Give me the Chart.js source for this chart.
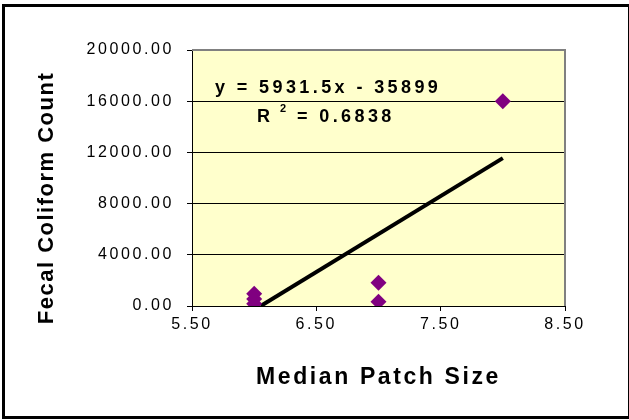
<!DOCTYPE html>
<html>
<head>
<meta charset="utf-8">
<script src="https://cdn.jsdelivr.net/npm/chart.js@4/dist/chart.umd.min.js"></script>
<style>
    body { margin: 0; background: #fff; }
    #chart { display: block; }
</style>
</head>
<body>
<canvas id="chart" width="629" height="420"></canvas>
<script>
// data
var patchSize = [6, 6, 6, 7, 7, 8];
var coliform = [950, 550, 180, 1820, 340, 16000];

// trendline as given by the chart
var slope = 5931.5;
var intercept = -35899;
var rSquared = 0.6838;

var xTicks = [5.5, 6.5, 7.5, 8.5];
var yTicks = [0, 4000, 8000, 12000, 16000, 20000];

var xTitle = 'Median Patch Size';
var yTitle = 'Fecal Coliform Count';

var points = patchSize.map((x, i) => ({ x: x, y: coliform[i] }));
var xStart = -intercept / slope;
var xEnd = Math.max(...patchSize);
var trend = [xStart, xEnd].map(x => ({ x: x, y: slope * x + intercept }));

var plotLeft = 192, plotRight = 565, plotTop = 50, plotBottom = 306;
var fontName = '"Liberation Sans", Arial, sans-serif';

var chartDecor = {
    id: 'chartDecor',
    beforeDraw(chart) {
        var ctx = chart.ctx;
        var a = chart.chartArea;
        ctx.save();
        ctx.fillStyle = '#FFFFCC';
        ctx.fillRect(a.left, a.top, a.right - a.left, a.bottom - a.top);
        ctx.restore();
        ctx.letterSpacing = '2.6px';
    },
    beforeDatasetsDraw(chart) {
        var ctx = chart.ctx;
        var a = chart.chartArea;
        ctx.save();
        ctx.strokeStyle = '#808080';
        ctx.lineWidth = 2;
        ctx.beginPath();
        ctx.moveTo(a.left, a.top);
        ctx.lineTo(a.right, a.top);
        ctx.lineTo(a.right, a.bottom);
        ctx.stroke();
        ctx.restore();
    },
    afterDraw(chart) {
        var ctx = chart.ctx;
        ctx.save();
        ctx.letterSpacing = '0px';
        ctx.strokeStyle = '#000';
        ctx.lineWidth = 3;
        ctx.strokeRect(3.5, 5.5, 626, 412);

        // trendline label
        ctx.fillStyle = '#000';
        ctx.textBaseline = 'alphabetic';
        ctx.textAlign = 'left';
        ctx.letterSpacing = '3.4px';
        ctx.font = 'bold 18px ' + fontName;
        ctx.fillText('y = ' + slope + 'x - ' + Math.abs(intercept), 215, 93);
        ctx.fillText('R', 257, 122);
        ctx.font = 'bold 11px ' + fontName;
        ctx.fillText('2', 280, 112);
        ctx.font = 'bold 18px ' + fontName;
        ctx.fillText('= ' + rSquared, 297, 122);

        ctx.letterSpacing = '1.5px';
        ctx.font = 'bold 22px ' + fontName;
        ctx.textAlign = 'center';
        ctx.textBaseline = 'middle';
        ctx.translate(47, 198);
        ctx.rotate(-Math.PI / 2);
        ctx.fillText(yTitle, 0, 0);
        ctx.restore();
    }
};

var config = {
    data: {
        datasets: [
            {
                type: 'scatter',
                label: 'Fecal Coliform',
                data: points,
                backgroundColor: '#800080',
                borderColor: '#800080',
                pointStyle: 'rectRot',
                pointRadius: 8,
                pointHoverRadius: 8,
                borderWidth: 0
            },
            {
                type: 'line',
                label: 'Trend',
                data: trend,
                borderColor: '#000',
                borderWidth: 4,
                pointRadius: 0,
                fill: false,
                tension: 0
            }
        ]
    },
    options: {
        responsive: false,
        animation: false,
        layout: { padding: { left: 0, top: plotTop, right: 629 - plotRight, bottom: 0 } },
        plugins: {
            legend: { display: false },
            tooltip: { enabled: false }
        },
        scales: {
            x: {
                type: 'linear',
                min: xTicks[0],
                max: xTicks[xTicks.length - 1],
                afterBuildTicks: s => { s.ticks = xTicks.map(v => ({ value: v })); },
                afterFit: s => { s.height = 420 - plotBottom; },
                ticks: {
                    color: '#000',
                    font: { family: fontName, size: 16 },
                    padding: 4,
                    maxRotation: 0,
                    callback: v => v.toFixed(2)
                },
                grid: { drawOnChartArea: false, color: '#000', tickLength: 5 },
                border: { color: '#000', width: 1 },
                title: {
                    display: true,
                    text: xTitle,
                    color: '#000',
                    font: { family: fontName, size: 23, weight: 'bold' },
                    padding: { top: 0, bottom: 29 }
                }
            },
            y: {
                type: 'linear',
                min: yTicks[0],
                max: yTicks[yTicks.length - 1],
                afterBuildTicks: s => { s.ticks = yTicks.map(v => ({ value: v })); },
                afterFit: s => { s.width = plotLeft; },
                ticks: {
                    color: '#000',
                    font: { family: fontName, size: 16 },
                    padding: 13,
                    callback: v => v.toFixed(2)
                },
                grid: { color: '#000', tickLength: 5 },
                border: { color: '#000', width: 1 }
            }
        }
    },
    plugins: [chartDecor]
};

window.onload = () => {
    new Chart(document.getElementById('chart'), config);
};
</script>
</body>
</html>
